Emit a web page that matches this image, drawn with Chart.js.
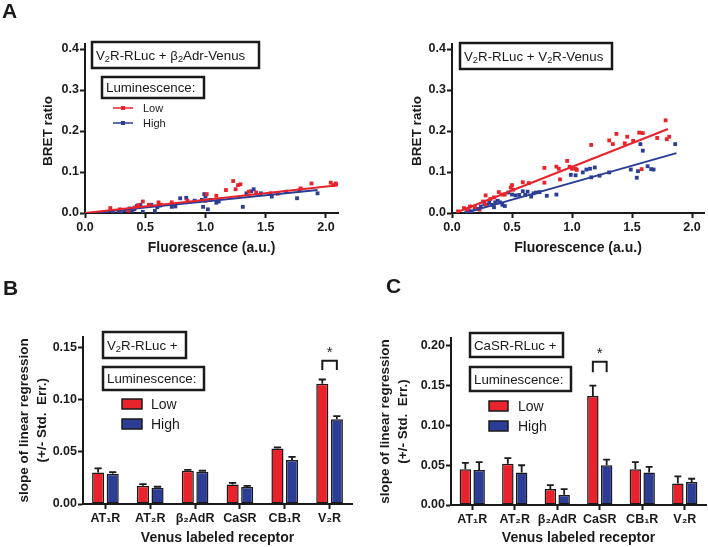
<!DOCTYPE html>
<html>
<head>
<meta charset="utf-8">
<script src="https://cdn.jsdelivr.net/npm/chart.js@4.4.1/dist/chart.umd.min.js"></script>
<style>
  body { margin: 0; background: #fff; width: 708px; height: 547px; position: relative; overflow: hidden; }
  canvas { position: absolute; }
</style>
</head>
<body>
<canvas id="chartA1" width="354" height="270" style="left:0;top:0"></canvas>
<canvas id="chartA2" width="354" height="270" style="left:354px;top:0"></canvas>
<canvas id="chartB" width="354" height="277" style="left:0;top:270px"></canvas>
<canvas id="chartC" width="354" height="277" style="left:354px;top:270px"></canvas>
<script>
// ---- data -------------------------------------------------------------
// A left: V2R-RLuc + b2Adr-Venus  [fluorescence, BRET ratio]
const lowA1 = [[0.21,0.012],[0.29,0.009],[0.36,0.006],[0.41,0.013],[0.44,0.019],[0.48,0.028],[0.53,0.02],
  [0.61,0.026],[0.63,0.02],[0.72,0.026],[0.85,0.03],[1.0,0.03],[1.01,0.046],[1.09,0.042],[1.17,0.056],
  [1.23,0.078],[1.25,0.058],[1.27,0.068],[1.29,0.07],[1.36,0.052],[1.42,0.05],[1.54,0.048],[1.6,0.047],
  [1.79,0.06],[1.88,0.072],[2.04,0.074],[2.06,0.068],[2.08,0.072],[2.1,0.07]];
const highA1 = [[0.14,0.0],[0.18,0.002],[0.23,0.003],[0.28,0.005],[0.3,0.0],[0.33,0.007],[0.37,0.011],
  [0.39,0.006],[0.41,0.009],[0.43,0.017],[0.46,0.02],[0.48,0.003],[0.55,0.02],[0.58,0.005],[0.6,0.014],
  [0.62,0.018],[0.72,0.015],[0.75,0.016],[0.79,0.036],[0.84,0.037],[0.91,0.03],[0.97,0.032],[0.98,0.015],
  [0.99,0.046],[1.0,0.04],[1.02,0.009],[1.04,0.032],[1.09,0.025],[1.11,0.028],[1.31,0.015],[1.34,0.048],
  [1.38,0.053],[1.4,0.058],[1.46,0.048],[1.55,0.04],[1.67,0.052],[1.76,0.036],[1.78,0.055],[1.93,0.048]];
const lowFitA1 = [[0,0],[2.1,0.068]];
const highFitA1 = [[0.05,0],[1.93,0.056]];

// A right: V2R-RLuc + V2R-Venus
const lowA2 = [[0.05,0.004],[0.10,0.012],[0.13,0.008],[0.15,0.016],[0.19,0.014],[0.23,0.008],[0.26,0.028],
  [0.28,0.043],[0.28,0.02],[0.32,0.034],[0.35,0.038],[0.39,0.051],[0.42,0.045],[0.44,0.045],[0.49,0.062],
  [0.50,0.068],[0.51,0.057],[0.59,0.075],[0.64,0.073],[0.77,0.11],[0.77,0.074],[0.87,0.113],[0.89,0.108],
  [0.90,0.082],[0.96,0.127],[0.98,0.113],[1.0,0.108],[1.03,0.108],[1.04,0.105],[1.16,0.166],[1.31,0.177],
  [1.34,0.168],[1.37,0.193],[1.44,0.17],[1.46,0.186],[1.51,0.176],[1.56,0.196],[1.59,0.195],[1.58,0.107],
  [1.71,0.183],[1.78,0.226],[1.79,0.18],[1.81,0.186]];
const highA2 = [[0.12,0.002],[0.14,0.006],[0.16,0.004],[0.19,0.012],[0.22,0.01],[0.24,0.016],[0.27,0.022],
  [0.29,0.02],[0.31,0.025],[0.33,0.02],[0.35,0.014],[0.36,0.026],[0.38,0.03],[0.40,0.026],[0.42,0.02],
  [0.44,0.017],[0.47,0.05],[0.50,0.045],[0.53,0.043],[0.56,0.044],[0.59,0.053],[0.61,0.044],[0.63,0.052],
  [0.66,0.04],[0.68,0.048],[0.70,0.05],[0.73,0.051],[0.79,0.042],[0.87,0.045],[0.99,0.093],[1.03,0.092],
  [1.09,0.099],[1.12,0.106],[1.15,0.108],[1.19,0.111],[1.16,0.087],[1.23,0.091],[1.31,0.099],[1.49,0.106],
  [1.54,0.086],[1.55,0.102],[1.57,0.168],[1.59,0.152],[1.63,0.114],[1.66,0.107],[1.68,0.106],[1.86,0.168]];
const lowFitA2 = [[0.05,0.003],[1.80,0.205]];
const highFitA2 = [[0.12,0.001],[1.87,0.146]];

const fluorTicks = [0, 0.5, 1, 1.5, 2];
const bretTicks = [0, 0.1, 0.2, 0.3, 0.4];

// B and C: slope of linear regression per Venus labeled receptor
const receptors = ['AT₁R', 'AT₂R', 'β₂AdR', 'CaSR', 'CB₁R', 'V₂R'];
const lowB = [0.030, 0.0175, 0.0317, 0.0186, 0.053, 0.115];
const lowErrB = [0.004, 0.0015, 0.001, 0.0015, 0.0012, 0.004];
const highB = [0.029, 0.0155, 0.0308, 0.0163, 0.042, 0.081];
const highErrB = [0.0015, 0.001, 0.001, 0.001, 0.003, 0.003];
const lowC = [0.045, 0.052, 0.020, 0.137, 0.045, 0.027];
const lowErrC = [0.008, 0.007, 0.005, 0.013, 0.009, 0.009];
const highC = [0.044, 0.041, 0.013, 0.050, 0.041, 0.029];
const highErrC = [0.010, 0.009, 0.007, 0.007, 0.007, 0.004];
const slopeTicksB = [0, 0.05, 0.10, 0.15];
const slopeTicksC = [0, 0.05, 0.10, 0.15, 0.20];

// ---- style ------------------------------------------------------------
const RED = '#e8232c';
const BLUE = '#2c3d96';
const INK = '#1a1a1a';
const FONT = "'Liberation Sans', Arial, sans-serif";

const toXY = arr => arr.map(p => ({ x: p[0], y: p[1] }));

// text with "_" prefixed parts as subscripts
function drawRich(ctx, parts, x, y, size, weight) {
  let cx = x;
  parts.forEach(p => {
    const sub = p.startsWith('_');
    const t = sub ? p.slice(1) : p;
    ctx.font = `${weight || ''} ${sub ? size * 0.7 : size}px ${FONT}`;
    ctx.fillText(t, cx, sub ? y + size * 0.28 : y);
    cx += ctx.measureText(t).width;
  });
}

// boxes, legend keys and panel letters
const panelText = {
  id: 'panelText',
  afterDraw(chart, args, opts) {
    const ctx = chart.ctx;
    ctx.save();
    ctx.fillStyle = INK;
    ctx.strokeStyle = INK;
    (opts.items || []).forEach(it => {
      if (it.type === 'letter') {
        ctx.textBaseline = 'alphabetic';
        ctx.font = `bold 21px ${FONT}`;
        ctx.fillText(it.text, it.x, it.y);
      } else if (it.type === 'box') {
        ctx.lineWidth = 2.5;
        ctx.fillStyle = '#fff';
        ctx.fillRect(it.x, it.y, it.w, it.h);
        ctx.strokeRect(it.x, it.y, it.w, it.h);
        ctx.fillStyle = INK;
        ctx.textBaseline = 'middle';
        drawRich(ctx, it.parts, it.x + 4, it.y + it.h / 2 + 1, 13.3);
      } else if (it.type === 'lineKey') {
        ctx.strokeStyle = it.color;
        ctx.fillStyle = it.color;
        ctx.lineWidth = 1.5;
        ctx.beginPath();
        ctx.moveTo(it.x, it.y);
        ctx.lineTo(it.x + 20, it.y);
        ctx.stroke();
        ctx.fillRect(it.x + 8, it.y - 2, 4, 4);
        ctx.fillStyle = INK;
        ctx.strokeStyle = INK;
        ctx.textBaseline = 'middle';
        ctx.font = `11px ${FONT}`;
        ctx.fillText(it.text, it.x + 30, it.y + 1);
      } else if (it.type === 'swatch') {
        ctx.fillStyle = it.color;
        ctx.fillRect(it.x, it.y, it.w, it.h);
        ctx.lineWidth = 1.5;
        ctx.strokeRect(it.x, it.y, it.w, it.h);
        ctx.fillStyle = INK;
        ctx.textBaseline = 'middle';
        ctx.font = `14px ${FONT}`;
        ctx.fillText(it.text, it.x + 29, it.y + it.h / 2 + 1);
      } else if (it.type === 'axisCap') {
        // small overshoot of the y axis line above the top tick
        ctx.lineWidth = 2;
        ctx.beginPath();
        const x = chart.chartArea.left - 0;
        ctx.moveTo(x, chart.chartArea.top + 1);
        ctx.lineTo(x, chart.chartArea.top - it.len);
        ctx.stroke();
      }
    });
    ctx.restore();
  }
};

// upper-only error bars, taken from dataset.errors
const errorBars = {
  id: 'errorBars',
  afterDatasetsDraw(chart) {
    const { ctx, scales: { y } } = chart;
    chart.data.datasets.forEach((ds, i) => {
      if (!ds.errors) return;
      chart.getDatasetMeta(i).data.forEach((bar, j) => {
        const top = y.getPixelForValue(ds.data[j] + ds.errors[j]);
        const half = bar.width * 0.3;
        ctx.save();
        ctx.strokeStyle = INK;
        ctx.lineWidth = 1.8;
        ctx.beginPath();
        ctx.moveTo(bar.x, bar.y);
        ctx.lineTo(bar.x, top);
        ctx.moveTo(bar.x - half, top);
        ctx.lineTo(bar.x + half, top);
        ctx.stroke();
        ctx.restore();
      });
    });
  }
};

// significance bracket between the two bars of one category
const sigBracket = {
  id: 'sigBracket',
  afterDatasetsDraw(chart, args, opts) {
    if (opts.index === undefined) return;
    const { ctx, scales: { y } } = chart;
    const a = chart.getDatasetMeta(0).data[opts.index];
    const b = chart.getDatasetMeta(1).data[opts.index];
    const top = y.getPixelForValue(opts.top);
    const leg = y.getPixelForValue(opts.leg);
    ctx.save();
    ctx.strokeStyle = INK;
    ctx.lineWidth = 2;
    ctx.beginPath();
    ctx.moveTo(a.x, leg);
    ctx.lineTo(a.x, top);
    ctx.lineTo(b.x, top);
    ctx.lineTo(b.x, leg);
    ctx.stroke();
    ctx.fillStyle = INK;
    ctx.font = `15px ${FONT}`;
    ctx.textAlign = 'center';
    ctx.textBaseline = 'middle';
    ctx.fillText('*', (a.x + b.x) / 2, top - 8);
    ctx.restore();
  }
};

const tickFont = { family: FONT, size: 12.5, weight: 'bold' };
const titleFont = { family: FONT, size: 14, weight: 'bold' };

function axis(extra) {
  return Object.assign({
    border: { display: true, color: INK, width: 2 },
    grid: { display: true, drawOnChartArea: false, drawTicks: true, tickLength: 5, tickWidth: 2, tickColor: INK },
  }, extra);
}

function scatterChart(id, low, high, lowFit, highFit, geom, items) {
  const line = (d, c) => ({ data: toXY(d), showLine: true, borderColor: c, borderWidth: 2, pointRadius: 0, order: 0 });
  const pts = (d, c) => ({ data: toXY(d), backgroundColor: c, pointStyle: 'rect', pointRadius: 2.7, borderWidth: 0, order: 1 });
  return new Chart(document.getElementById(id), {
    type: 'scatter',
    data: { datasets: [line(lowFit, RED), line(highFit, BLUE), pts(low, RED), pts(high, BLUE)] },
    options: {
      responsive: false,
      animation: false,
      layout: { padding: { top: 49, right: geom.right, left: 0, bottom: 0 } },
      plugins: { legend: { display: false }, tooltip: { enabled: false }, panelText: { items } },
      scales: {
        x: axis({
          type: 'linear', min: 0, max: 2.1,
          afterBuildTicks: s => { s.ticks = fluorTicks.map(v => ({ value: v })); },
          afterFit: s => { s.height = 57; },
          ticks: { color: INK, font: tickFont, padding: 2, maxRotation: 0, callback: v => v.toFixed(1) },
          title: { display: true, text: 'Fluorescence (a.u.)', color: INK, font: titleFont, padding: { top: 0, bottom: 13.6 } }
        }),
        y: axis({
          type: 'linear', min: 0, max: 0.4,
          afterBuildTicks: s => { s.ticks = bretTicks.map(v => ({ value: v })); },
          afterFit: s => { s.width = geom.left; },
          ticks: { color: INK, font: tickFont, padding: 1, callback: v => v.toFixed(1) },
          title: { display: true, text: 'BRET ratio', color: INK, font: { family: FONT, size: 13.5, weight: 'bold' }, padding: { top: geom.titleX, bottom: 0 } }
        })
      }
    },
    plugins: [panelText]
  });
}

function barChart(id, low, lowErr, high, highErr, tickVals, geom, sig, items) {
  const bars = (d, e, c) => ({
    data: d, errors: e, backgroundColor: c, borderColor: INK, borderWidth: 1.5, borderSkipped: false,
    barPercentage: 0.83, categoryPercentage: 0.65
  });
  return new Chart(document.getElementById(id), {
    type: 'bar',
    data: { labels: receptors, datasets: [bars(low, lowErr, RED), bars(high, highErr, BLUE)] },
    options: {
      responsive: false,
      animation: false,
      layout: { padding: { top: geom.top, right: 2, left: 0, bottom: 0 } },
      plugins: { legend: { display: false }, tooltip: { enabled: false }, panelText: { items }, sigBracket: sig },
      scales: {
        x: axis({
          grid: { display: true, offset: false, drawOnChartArea: false, drawTicks: true, tickLength: 5, tickWidth: 2, tickColor: INK },
          afterFit: s => { s.height = geom.xh; },
          ticks: { color: INK, font: tickFont, padding: 2, maxRotation: 0, autoSkip: false },
          title: { display: true, text: 'Venus labeled receptor', color: INK, font: titleFont, padding: { top: 0, bottom: 0 } }
        }),
        y: axis({
          type: 'linear', min: 0, max: geom.max,
          afterBuildTicks: s => { s.ticks = tickVals.map(v => ({ value: v })); },
          afterFit: s => { s.width = geom.left; },
          ticks: { color: INK, font: tickFont, padding: 1, callback: v => v.toFixed(2) },
          title: {
            display: true, text: ['slope of linear regression', '(+/- Std.  Err.)'], color: INK,
            font: { family: FONT, size: 13.5, weight: 'bold', lineHeight: 1.3 }, padding: { top: geom.titleX, bottom: 0 }
          }
        })
      }
    },
    plugins: [errorBars, sigBracket, panelText]
  });
}

scatterChart('chartA1', lowA1, highA1, lowFitA1, highFitA1, { left: 85, right: 16, titleX: 40 }, [
  { type: 'letter', text: 'A', x: 2, y: 18 },
  { type: 'axisCap', len: 6 },
  { type: 'box', x: 92, y: 42, w: 167, h: 26, parts: ['V', '_2', 'R-RLuc + β', '_2', 'Adr-Venus'] },
  { type: 'box', x: 102, y: 77, w: 102, h: 21, parts: ['Luminescence:'] },
  { type: 'lineKey', x: 113, y: 108, color: RED, text: 'Low' },
  { type: 'lineKey', x: 113, y: 123, color: BLUE, text: 'High' }
]);

scatterChart('chartA2', lowA2, highA2, lowFitA2, highFitA2, { left: 98, right: 2, titleX: 55 }, [
  { type: 'axisCap', len: 6 },
  { type: 'box', x: 106, y: 43, w: 152, h: 26, parts: ['V', '_2', 'R-RLuc + V', '_2', 'R-Venus'] }
]);

barChart('chartB', lowB, lowErrB, highB, highErrB, slopeTicksB,
  { left: 83, top: 66.6, max: 0.16, xh: 43, titleX: 16 },
  { index: 5, top: 0.137, leg: 0.128 }, [
  { type: 'letter', text: 'B', x: 3, y: 25 },
  { type: 'box', x: 103, y: 62, w: 83, h: 26, parts: ['V', '_2', 'R-RLuc +'] },
  { type: 'box', x: 103, y: 97, w: 101, h: 23, parts: ['Luminescence:'] },
  { type: 'swatch', x: 122, y: 129, w: 20, h: 10, color: RED, text: 'Low' },
  { type: 'swatch', x: 122, y: 149, w: 20, h: 10, color: BLUE, text: 'High' }
]);

barChart('chartC', lowC, lowErrC, highC, highErrC, slopeTicksC,
  { left: 97, top: 68, max: 0.21, xh: 42, titleX: 23 },
  { index: 3, top: 0.18, leg: 0.167 }, [
  { type: 'letter', text: 'C', x: 32, y: 23 },
  { type: 'box', x: 116, y: 63, w: 93, h: 24, parts: ['CaSR-RLuc +'] },
  { type: 'box', x: 116, y: 97, w: 101, h: 24, parts: ['Luminescence:'] },
  { type: 'swatch', x: 135, y: 131, w: 19, h: 10, color: RED, text: 'Low' },
  { type: 'swatch', x: 135, y: 151, w: 19, h: 10, color: BLUE, text: 'High' }
]);
</script>
</body>
</html>
